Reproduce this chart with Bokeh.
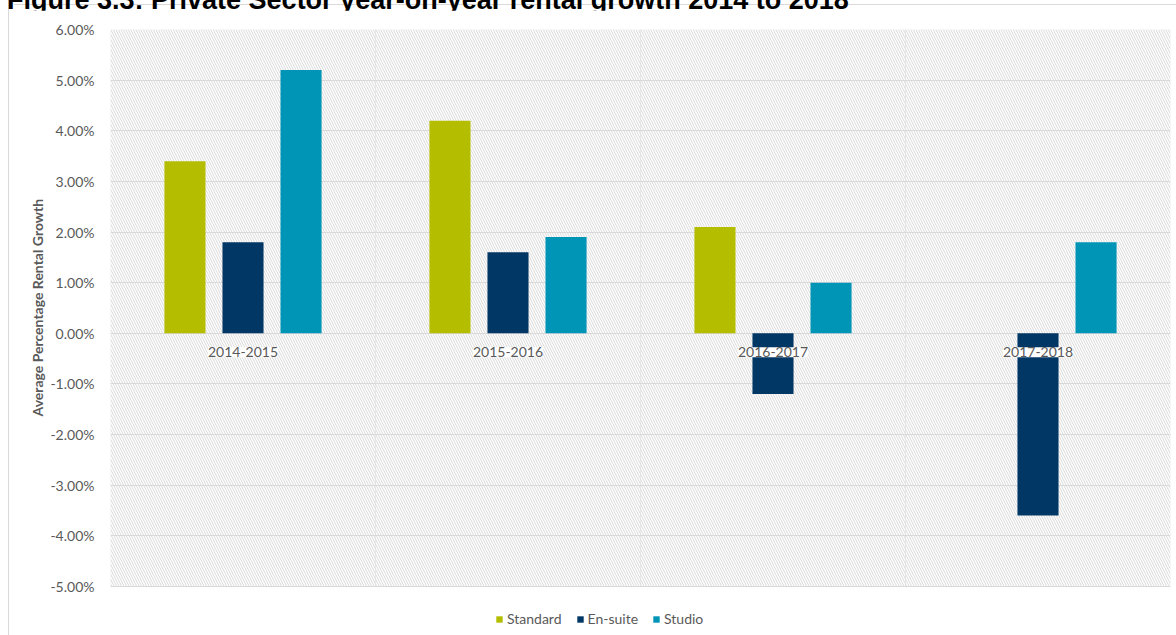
from bokeh.plotting import figure
from bokeh.models import (ColumnDataSource, FactorRange, Range1d, PrintfTickFormatter,
                          FixedTicker, LabelSet, BoxAnnotation, Legend, LegendItem, Div, Title)
from bokeh.core.properties import value
from bokeh.transform import dodge
from bokeh.layouts import column
from bokeh.embed import file_html
from bokeh.resources import INLINE

# ---- data ----
categories = ["2014-2015", "2015-2016", "2016-2017", "2017-2018"]
standard = [3.4, 4.2, 2.1, 0.0]
ensuite = [1.8, 1.6, -1.2, -3.6]
studio = [5.2, 1.9, 1.0, 1.8]
series_names = ["Standard", "En-suite", "Studio"]
series_colors = ["#B5BD00", "#003764", "#0095B6"]
y_ticks = [-5, -4, -3, -2, -1, 0, 1, 2, 3, 4, 5, 6]
y_min, y_max = -5, 6
title_text = "Figure 3.3: Private Sector year-on-year rental growth 2014 to 2018"
y_label = "Average Percentage Rental Growth"

source = ColumnDataSource(dict(cat=categories, standard=standard, ensuite=ensuite,
                               studio=studio, zero=[0] * len(categories)))

FONT = "Lato"
GREY = "#595959"
LINE = "#D9D9D9"

# frame extends below the plot area so that the legend can sit under it
px_per_unit = 557 / (y_max - y_min)
p = figure(x_range=FactorRange(*categories, range_padding=0),
           y_range=Range1d(y_min - 49 / px_per_unit, y_max), x_axis_location=None,
           frame_width=1060, frame_height=606,
           min_border_left=101, min_border_right=6, min_border_top=19, min_border_bottom=0,
           output_backend="svg", toolbar_location=None,
           background_fill_color="white", border_fill_color="white")
p.outline_line_color = None

# hatched plot-area cells, one per category (their borders give the separators)
for i in range(len(categories)):
    p.add_layout(BoxAnnotation(left=i, right=i + 1, bottom=y_min, top=y_max,
                               fill_alpha=0, line_color=LINE, line_width=1,
                               hatch_pattern="\\", hatch_color=LINE, hatch_scale=5,
                               hatch_weight=1, level="underlay"))

# horizontal grid
p.ygrid.grid_line_color = LINE
p.ygrid.grid_line_width = 1
p.ygrid.ticker = FixedTicker(ticks=y_ticks)
p.xgrid.visible = False

offsets = [-0.219, 0.0, 0.219]
fields = ["standard", "ensuite", "studio"]
renderers = []
for f, off, col in zip(fields, offsets, series_colors):
    r = p.vbar(x=dodge("cat", off, range=p.x_range), top=f, bottom="zero", width=0.155,
               source=source, fill_color=col, line_color=None)
    renderers.append(r)

# y axis
ya = p.yaxis[0]
ya.ticker = FixedTicker(ticks=y_ticks)
ya.formatter = PrintfTickFormatter(format="%.2f%%")
ya.axis_line_color = None
ya.major_tick_line_color = None
ya.minor_tick_line_color = None
ya.major_label_text_font = FONT
ya.major_label_text_font_size = "14px"
ya.major_label_text_color = GREY
ya.major_label_standoff = 10

# y axis title, placed along the plot area (not the extended frame)
p.add_layout(Title(text=y_label, align="left", offset=219, standoff=3,
                   text_font=FONT, text_font_size="14px", text_font_style="bold",
                   text_color=GREY), "left")

# category labels at the zero line
labels = LabelSet(x="cat", y="zero", text="cat", source=source, y_offset=-19,
                  text_align="center", text_baseline="middle",
                  text_font=value(FONT), text_font_size=value("14px"), text_color=GREY,
                  background_fill_color="white", background_fill_alpha=1.0)
p.add_layout(labels)

legend = Legend(items=[LegendItem(label=n, renderers=[r]) for n, r in zip(series_names, renderers)],
                orientation="horizontal", location=(385, 8),
                glyph_width=8, glyph_height=8, label_standoff=4, spacing=14,
                label_text_font=FONT, label_text_font_size="14px", label_text_color=GREY,
                label_height=16, padding=0, margin=0,
                border_line_color=None, background_fill_alpha=0)
p.add_layout(legend)

title = Div(text=title_text, width=1167, height=20,
            styles={"font-family": "Liberation Sans", "font-weight": "bold",
                    "font-size": "27px", "line-height": "31px", "color": "#000000",
                    "white-space": "nowrap", "text-indent": "-7px",
                    "border-bottom": "1px solid #D9D9D9"})

layout = column(title, p, spacing=0,
                styles={"margin-top": "-20px", "margin-left": "8px",
                        "border-left": "1px solid #D9D9D9"})

open("out.html", "w").write(file_html(layout, INLINE))
